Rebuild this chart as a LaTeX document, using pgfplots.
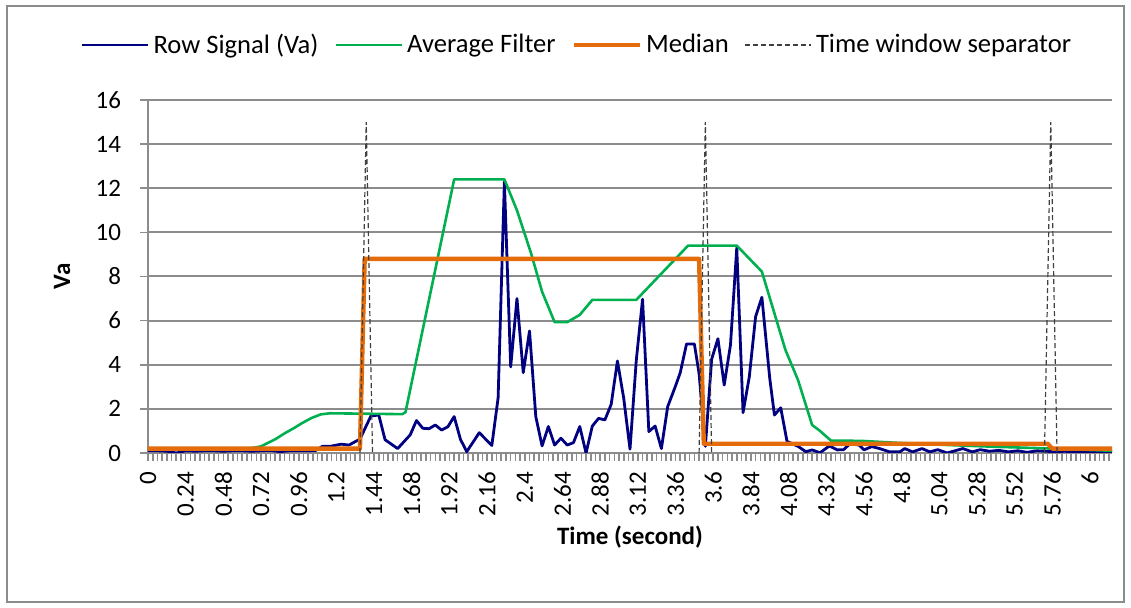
\documentclass[border=0pt]{standalone}
\usepackage{fontspec}
\setmainfont{Carlito}
\usepackage{pgfplots}
\pgfplotsset{compat=1.18}

\definecolor{sigblue}{HTML}{000080}
\definecolor{avggreen}{HTML}{00B050}
\definecolor{medorange}{HTML}{E46C0A}
\definecolor{sepgray}{HTML}{404040}
\definecolor{gridgray}{HTML}{8C8C8C}
\definecolor{framegray}{HTML}{8C8C8C}

\begin{document}
\begin{tikzpicture}
% page size and chart frame
\path[use as bounding box] (-74pt,-77.5pt) rectangle (491.5pt,226.5pt);
\draw[framegray, line width=0.7pt] (-70.5pt,-74.5pt) rectangle (488pt,223.5pt);

\begin{axis}[
  at={(0,0)}, anchor=south west,
  scale only axis, width=482pt, height=176.5pt,
  xmin=0, xmax=6.14, ymin=0, ymax=16,
  axis x line*=bottom, axis y line*=left,
  axis line style={gridgray, line width=1pt},
  ytick={0,2,...,16},
  xtick={0,0.24,0.48,0.72,0.96,1.2,1.44,1.68,1.92,2.16,2.4,2.64,2.88,3.12,3.36,3.6,3.84,4.08,4.32,4.56,4.8,5.04,5.28,5.52,5.76,6},
  xticklabels={0,0.24,0.48,0.72,0.96,1.2,1.44,1.68,1.92,2.16,2.4,2.64,2.88,3.12,3.36,3.6,3.84,4.08,4.32,4.56,4.8,5.04,5.28,5.52,5.76,6},
  minor xtick={0,0.03,...,6.13},
  tick align=outside,
  major tick length=4pt, minor tick length=4pt,
  tick style={gridgray, line width=0.8pt},
  ymajorgrids, grid style={gridgray, line width=1pt},
  font=\fontsize{12.5}{15}\selectfont,
  tick label style={font=\fontsize{12.5}{15}\selectfont},
  /pgf/number format/assume math mode=true,
  xticklabel style={rotate=90, anchor=east, xshift=-2pt},
  yticklabel style={xshift=-6pt},
  xlabel={\textbf{Time (second)}},
  ylabel={\textbf{Va}},
  xlabel style={at={(axis description cs:0.5,0)}, anchor=center, yshift=-42pt},
  ylabel style={at={(axis description cs:0,0.5)}, anchor=center, yshift=43pt},
  legend columns=4,
  legend style={at={(0.446,1.156)}, anchor=center, draw=none, fill=none,
    font=\fontsize{13.3}{16}\selectfont,
    nodes={inner xsep=2pt},
    /tikz/every even column/.append style={column sep=6pt}},
  legend image code/.code={\draw[#1] (0pt,0pt) -- (33pt,0pt);},
  unbounded coords=jump,
]

% raw signal
\addplot[sigblue, line width=1.4pt, line join=round] coordinates {
(0.00,0.10) (0.06,0.10) (0.12,0.08) (0.18,0.00) (0.24,0.10) (0.30,0.08)
(0.36,0.10) (0.42,0.10) (0.48,0.08) (0.54,0.10) (0.60,0.10) (0.66,0.08)
(0.72,0.10) (0.78,0.12) (0.84,0.06) (0.90,0.10) (0.96,0.10) (1.02,0.10)
(1.07,0.12) (1.11,0.30) (1.16,0.30) (1.23,0.40) (1.28,0.36) (1.35,0.63)
(1.42,1.68) (1.47,1.72) (1.51,0.60) (1.59,0.20) (1.67,0.82) (1.71,1.47)
(1.75,1.12) (1.79,1.10) (1.83,1.27) (1.87,1.04) (1.91,1.19) (1.95,1.65)
(1.99,0.62) (2.03,0.06) (2.11,0.92) (2.19,0.34) (2.23,2.50) (2.27,12.30)
(2.31,3.90) (2.35,7.00) (2.39,3.64) (2.43,5.53) (2.47,1.65) (2.51,0.32)
(2.55,1.20) (2.59,0.36) (2.63,0.67) (2.67,0.36) (2.71,0.47) (2.75,1.20)
(2.79,0.00) (2.83,1.22) (2.87,1.57) (2.91,1.50) (2.95,2.20) (2.99,4.17)
(3.03,2.48) (3.07,0.17) (3.11,4.20) (3.15,6.97) (3.19,0.97) (3.23,1.22)
(3.27,0.20) (3.31,2.10) (3.36,3.04) (3.39,3.64) (3.43,4.94) (3.48,4.94)
(3.51,3.60) (3.55,0.30) (3.59,4.25) (3.63,5.18) (3.67,3.08) (3.71,4.90)
(3.75,9.30) (3.79,1.83) (3.83,3.46) (3.87,6.18) (3.91,7.06) (3.96,3.39)
(3.99,1.72) (4.03,2.05) (4.07,0.53) (4.14,0.30) (4.19,0.06) (4.23,0.14)
(4.28,0.01) (4.34,0.32) (4.39,0.14) (4.43,0.15) (4.47,0.41) (4.53,0.36)
(4.56,0.14) (4.61,0.29) (4.66,0.20) (4.72,0.06) (4.79,0.06) (4.82,0.20)
(4.87,0.05) (4.93,0.20) (4.98,0.05) (5.03,0.15) (5.09,0.00) (5.14,0.10)
(5.19,0.20) (5.25,0.05) (5.30,0.15) (5.36,0.08) (5.42,0.12) (5.48,0.05)
(5.54,0.10) (5.60,0.03) (5.66,0.10) (5.72,0.08) (5.78,0.05) (5.84,0.08)
(5.90,0.03) (5.96,0.06) (6.02,0.05) (6.08,0.05) (6.14,0.05)
};
\addlegendentry{Row Signal (Va)}

% moving average
\addplot[avggreen, line width=1.3pt, line join=round] coordinates {
(0.00,0.20) (0.60,0.20) (0.66,0.22) (0.72,0.30) (0.75,0.41) (0.81,0.62)
(0.87,0.89) (0.93,1.13) (0.98,1.35) (1.04,1.58) (1.10,1.75) (1.16,1.80)
(1.62,1.76) (1.64,1.85) (1.95,12.40) (2.27,12.40) (2.35,11.00) (2.44,9.05)
(2.51,7.31) (2.59,5.93) (2.67,5.93) (2.75,6.26) (2.83,6.94) (3.11,6.94)
(3.44,9.40) (3.75,9.40) (3.91,8.22) (4.06,4.67) (4.14,3.31) (4.23,1.27)
(4.28,1.00) (4.35,0.56) (4.54,0.55) (4.80,0.45) (5.10,0.36) (5.40,0.28)
(5.72,0.21) (6.14,0.10)
};
\addlegendentry{Average Filter}

% window median
\addplot[medorange, line width=2.2pt, line join=round] coordinates {
(0.00,0.20) (1.35,0.20) (1.38,8.80) (3.51,8.80) (3.54,0.42) (5.73,0.42)
(5.76,0.20) (6.14,0.20)
};
\addlegendentry{Median}

% window boundaries
\addplot[sepgray, line width=0.6pt, dash pattern=on 2.5pt off 1.5pt] coordinates {
(1.35,0) (1.39,15) (1.43,0) (2.00,nan)
(3.51,0) (3.55,15) (3.59,0) (4.50,nan)
(5.71,0) (5.75,15) (5.79,0)
};
\addlegendentry{Time window separator}

\end{axis}
\end{tikzpicture}
\end{document}
